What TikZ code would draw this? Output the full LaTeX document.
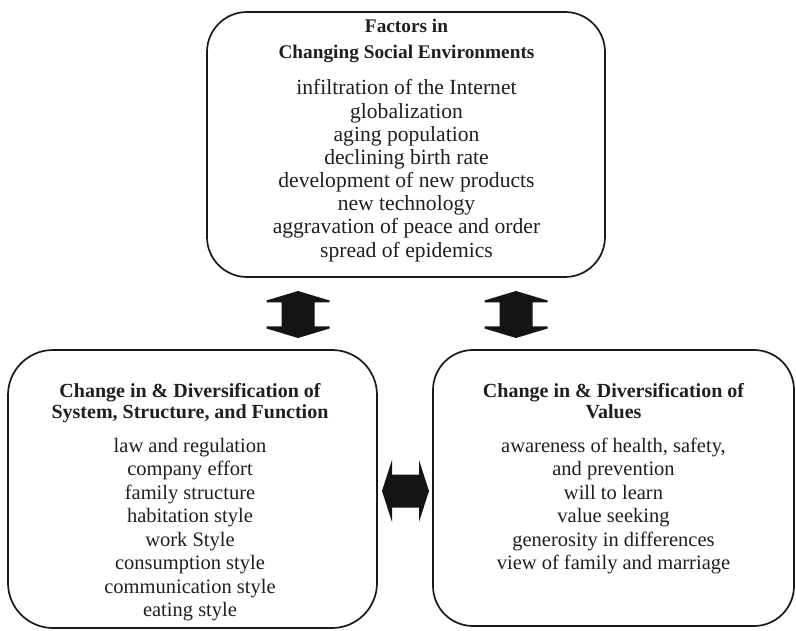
\documentclass[tikz,border=0pt]{standalone}
\usepackage{fontspec}
\setmainfont{Liberation Serif}
\usetikzlibrary{calc}
\begin{document}
\begin{tikzpicture}[x=1pt,y=-1pt,
  box/.style={draw=black!90, line width=1.7pt, rounded corners=40pt},
  ttl/.style={font=\fontsize{20}{22}\selectfont\bfseries, anchor=base, inner sep=0pt, text=black!88},
  itm/.style={font=\fontsize{20.5}{23.5}\selectfont, anchor=base, inner sep=0pt, text=black!88},
  ttltop/.style={ttl, font=\fontsize{19.3}{22}\selectfont\bfseries},
  itmtop/.style={itm, font=\fontsize{21.6}{23.5}\selectfont},
  blk/.style={fill=black!92}]
\useasboundingbox (0,0) rectangle (796,631);
% boxes
\draw[box] (207,12) rectangle (605,277);
\coordinate (topc) at (406.5,12);
\draw[box, rounded corners=45pt] (8,350) rectangle (377,628);
\coordinate (leftc) at (190,350);
\draw[box] (433,350) rectangle (794,626);
\coordinate (rightc) at (613.5,350);
% top box text
\node[ttltop] (t1) at ($(topc)+(0,21)$) {Factors in};
\node[ttltop] (t2) at ($(topc)+(0,47)$) {Changing Social Environments};
\foreach \s [count=\i from 0] in {infiltration of the Internet, globalization, aging population, declining birth rate, development of new products, new technology, aggravation of peace and order, spread of epidemics}
  \node[itmtop] (ti\i) at ($(topc)+(0,83+23.15*\i)$) {\s};
% left box text
\node[ttl] (l1) at ($(leftc)+(0,47)$) {Change in \& Diversification of};
\node[ttl] (l2) at ($(leftc)+(0,68)$) {System, Structure, and Function};
\foreach \s [count=\i from 0] in {law and regulation, company effort, family structure, habitation style, work Style, consumption style, communication style, eating style}
  \node[itm] (li\i) at ($(leftc)+(0,102+23.57*\i)$) {\s};
% right box text
\node[ttl] (r1) at ($(rightc)+(0,47)$) {Change in \& Diversification of};
\node[ttl] (r2) at ($(rightc)+(0,68)$) {Values};
\foreach \s [count=\i from 0] in {{awareness of health, safety,}, and prevention, will to learn, value seeking, generosity in differences, view of family and marriage}
  \node[itm] (ri\i) at ($(rightc)+(0,102+23.57*\i)$) {\s};
% block arrows
\coordinate (va) at (298,314.5);
\coordinate (vb) at (516,314.5);
\coordinate (ha) at (405.5,491);
\foreach \c in {va,vb}
  \fill[blk, shift={(\c)}] (0,-23.5) -- (31.5,-14) -- (31.5,-12) -- (16.5,-12) -- (16.5,12) -- (31.5,12) -- (31.5,14) -- (0,23.5) -- (-31.5,14) -- (-31.5,12) -- (-16.5,12) -- (-16.5,-12) -- (-31.5,-12) -- (-31.5,-14) -- cycle;
\fill[blk, shift={(ha)}] (-23.5,0) -- (-13.5,-31) -- (-13.5,-16.5) -- (13.5,-16.5) -- (13.5,-31) -- (23.5,0) -- (13.5,31) -- (13.5,16.5) -- (-13.5,16.5) -- (-13.5,31) -- cycle;
\end{tikzpicture}
\end{document}
